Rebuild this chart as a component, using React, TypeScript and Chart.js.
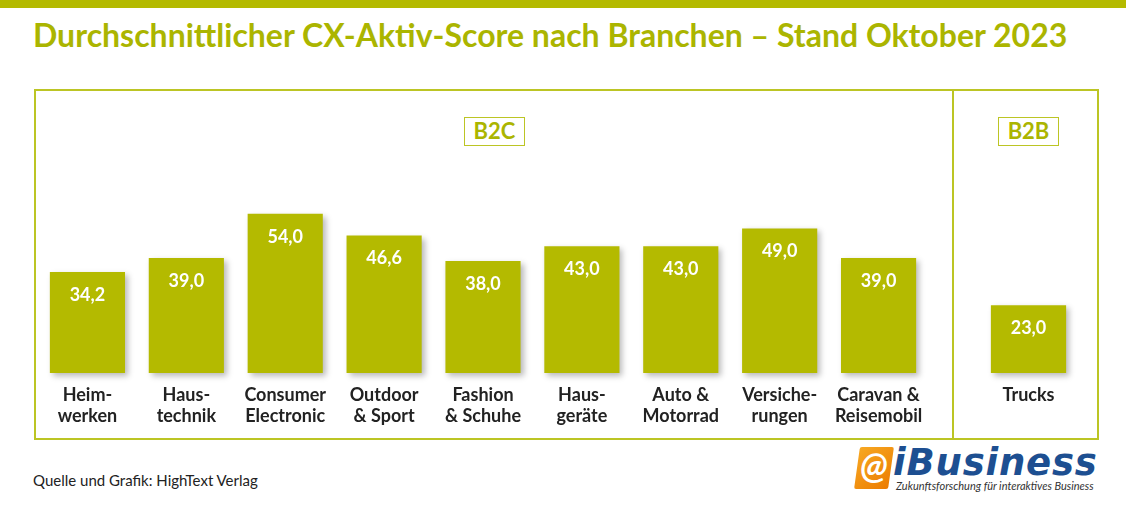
import React, { useEffect, useRef } from "react";
import { Chart, registerables } from "chart.js";

Chart.register(...registerables);

// ---------- data ----------
const b2cCategories: string[][] = [
  ["Heim-", "werken"],
  ["Haus-", "technik"],
  ["Consumer", "Electronic"],
  ["Outdoor", "& Sport"],
  ["Fashion", "& Schuhe"],
  ["Haus-", "geräte"],
  ["Auto &", "Motorrad"],
  ["Versiche-", "rungen"],
  ["Caravan &", "Reisemobil"],
];
const b2cValues: number[] = [34.2, 39.0, 54.0, 46.6, 38.0, 43.0, 43.0, 49.0, 39.0];

const b2bCategories: string[][] = [["Trucks"]];
const b2bValues: number[] = [23.0];

const yMin = 0;
const yMax = 60;

const titleText = "Durchschnittlicher CX-Aktiv-Score nach Branchen – Stand Oktober 2023";
const groupLabels = ["B2C", "B2B"];
const sourceText = "Quelle und Grafik: HighText Verlag";

// ---------- styles ----------
const OLIVE = "#b4ba00";
const TITLE_OLIVE = "#abb500";
const FRAME = "#bcc524";
const FONT = "Lato, 'Noto Sans', sans-serif";

const fmt = (v: number) => v.toFixed(1).replace(".", ",");

const shadowPlugin = {
  id: "barShadow",
  beforeDatasetsDraw(chart: any) {
    const c = chart.ctx;
    c.save();
    c.shadowColor = "rgba(0,0,0,0.28)";
    c.shadowBlur = 6;
    c.shadowOffsetX = 3;
    c.shadowOffsetY = 3;
  },
  afterDatasetsDraw(chart: any) {
    chart.ctx.restore();
  },
};

const valueLabelPlugin = {
  id: "valueLabels",
  afterDraw(chart: any) {
    const c = chart.ctx;
    const meta = chart.getDatasetMeta(0);
    const data = chart.data.datasets[0].data as number[];
    c.save();
    c.fillStyle = "#ffffff";
    c.font = `bold 18px ${FONT}`;
    c.textAlign = "center";
    c.textBaseline = "middle";
    meta.data.forEach((el: any, i: number) => {
      c.fillText(fmt(data[i]), el.x, el.y + 23);
    });
    c.restore();
  },
};

function BarPanel(props: { categories: string[][]; values: number[]; left: number; width: number }) {
  const ref = useRef<HTMLCanvasElement>(null);
  useEffect(() => {
    if (!ref.current) return;
    const chart = new Chart(ref.current, {
      type: "bar",
      data: {
        labels: props.categories,
        datasets: [
          {
            data: props.values,
            backgroundColor: OLIVE,
            borderWidth: 0,
            barPercentage: 0.76,
            categoryPercentage: 1,
            clip: false as any,
          },
        ],
      },
      options: {
        responsive: false,
        animation: false,
        layout: { padding: 0 },
        plugins: { legend: { display: false }, tooltip: { enabled: false } },
        scales: {
          x: {
            grid: { display: false, drawTicks: false },
            border: { display: false },
            ticks: {
              color: "#222222",
              font: { family: FONT, weight: "bold", size: 18, lineHeight: 1.17 },
              padding: 12,
              autoSkip: false,
              maxRotation: 0,
              minRotation: 0,
            },
            afterFit: (s: any) => {
              s.height = 65;
              s.paddingLeft = 0;
              s.paddingRight = 0;
            },
          },
          y: { display: false, min: yMin, max: yMax },
        },
      } as any,
      plugins: [shadowPlugin, valueLabelPlugin],
    });
    return () => chart.destroy();
  }, []);
  return (
    <canvas
      ref={ref}
      width={props.width}
      height={242}
      style={{ position: "absolute", left: props.left, top: 196, width: props.width, height: 242 }}
    />
  );
}

const groupBox = (left: number): React.CSSProperties => ({
  position: "absolute",
  left,
  top: 117,
  width: 61,
  height: 29,
  boxSizing: "border-box",
  border: `1.5px solid ${FRAME}`,
  color: TITLE_OLIVE,
  font: `bold 22px ${FONT}`,
  lineHeight: "26px",
  textAlign: "center",
});

export default function App() {
  return (
    <div
      style={{
        position: "fixed",
        left: 0,
        top: 0,
        width: 1126,
        height: 509,
        background: "#ffffff",
        overflow: "hidden",
        fontFamily: FONT,
      }}
    >
      <div style={{ position: "absolute", left: 0, top: 0, width: 1126, height: 8, background: OLIVE }} />
      <div
        style={{
          position: "absolute",
          left: 33,
          top: 16,
          whiteSpace: "nowrap",
          color: TITLE_OLIVE,
          font: `bold 32px ${FONT}`,
          lineHeight: "38px",
        }}
      >
        {titleText}
      </div>

      <div
        style={{
          position: "absolute",
          left: 34,
          top: 89,
          width: 1065,
          height: 351,
          boxSizing: "border-box",
          border: `2px solid ${FRAME}`,
        }}
      />
      <div style={{ position: "absolute", left: 952, top: 89, width: 2, height: 351, background: FRAME }} />

      <div style={groupBox(464)}>{groupLabels[0]}</div>
      <div style={groupBox(998)}>{groupLabels[1]}</div>

      <BarPanel categories={b2cCategories} values={b2cValues} left={38} width={890} />
      <BarPanel categories={b2bCategories} values={b2bValues} left={979} width={99} />

      <div
        style={{
          position: "absolute",
          left: 33,
          top: 471,
          color: "#222222",
          font: `15px ${FONT}`,
          lineHeight: "18px",
          whiteSpace: "nowrap",
        }}
      >
        {sourceText}
      </div>

      {/* logo */}
      <div
        style={{
          position: "absolute",
          left: 857,
          top: 447,
          width: 34,
          height: 42,
          background: "linear-gradient(135deg, #f7a823, #ec7c00)",
          transform: "skewX(-8deg)",
          borderRadius: 2,
        }}
      />
      <div
        style={{
          position: "absolute",
          left: 855,
          top: 443,
          width: 38,
          textAlign: "center",
          color: "#ffffff",
          font: `italic bold 36px ${FONT}`,
          lineHeight: "44px",
        }}
      >
        @
      </div>
      <div
        style={{
          position: "absolute",
          left: 893,
          top: 443,
          color: "#1d4f91",
          font: `italic bold 37px 'DejaVu Sans', sans-serif`,
          lineHeight: "40px",
          whiteSpace: "nowrap",
          letterSpacing: "0.8px",
        }}
      >
        iBusiness
      </div>
      <div
        style={{
          position: "absolute",
          left: 896,
          top: 480,
          color: "#333333",
          font: `italic 11px ${FONT}`,
          lineHeight: "12px",
          whiteSpace: "nowrap",
        }}
      >
        Zukunftsforschung für interaktives Business
      </div>
    </div>
  );
}
